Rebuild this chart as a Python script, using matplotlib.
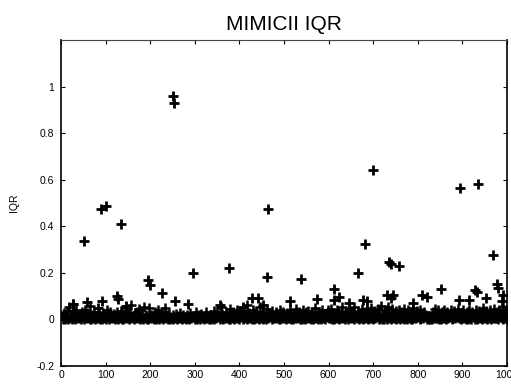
import numpy as np
import matplotlib
matplotlib.use("Agg")
import matplotlib.pyplot as plt

plt.rcParams['font.family'] = ['Liberation Sans', 'DejaVu Sans']

# Dense band of small IQR values (thousandths), one every 4 records
band_step = 4
band_main = [
    16, 28, 10, 35, 52, 20, 65, 30, 40, 14,
    24, 34, 16, 40, 26, 10, 58, 20, 30, 14,
    20, 30, 10, 26, 16, 40, 14, 34, 10, 24,
    16, 30, 20, 36, 14, 20, 50, 24, 26, 60,
    14, 26, 34, 45, 16, 24, 55, 20, 10, 48,
    20, 10, 30, 16, 40, 14, 34, 10, 50, 20,
    24, 12, 18, 10, 22, 14, 28, 12, 18, 10,
    18, 12, 26, 10, 16, 32, 12, 20, 24, 10,
    14, 30, 16, 20, 10, 36, 16, 34, 14, 55,
    24, 16, 34, 14, 45, 16, 30, 20, 40, 20,
    30, 16, 36, 20, 62, 26, 14, 42, 16, 34,
    20, 52, 20, 34, 16, 45, 26, 14, 36, 16,
    34, 16, 40, 20, 30, 14, 26, 20, 40, 16,
    24, 45, 14, 34, 20, 40, 16, 30, 36, 20,
    34, 16, 50, 20, 30, 16, 40, 24, 16, 40,
    20, 45, 26, 16, 40, 30, 20, 52, 20, 34,
    16, 45, 30, 20, 55, 16, 36, 24, 45, 20,
    34, 40, 20, 50, 16, 36, 20, 45, 26, 58,
    20, 40, 34, 52, 16, 45, 24, 36, 20, 42,
    30, 16, 45, 20, 40, 14, 34, 50, 20, 36,
    16, 42, 26, 34, 20, 12, 6, 10, 30, 45,
    20, 40, 16, 34, 42, 16, 30, 14, 40, 24,
    36, 16, 45, 26, 20, 40, 14, 34, 42, 16,
    34, 20, 42, 14, 36, 26, 50, 16, 36, 20,
    40, 24, 45, 16, 34, 42, 20, 52, 26, 40,
]
band_floor = [
    3, 0, 6, 2, 8, 1, 4, 0, 5, 7,
    2, 9, 0, 4, 6, 1, 3, 8, 0, 5,
    7, 2, 0, 5, 3, 9, 1, 6, 4, 0,
    8, 3, 5, 0, 2, 7, 4, 1, 6, 9,
    0, 4, 7, 2, 5, 0, 8, 3, 1, 6,
    5, 1, 3, 8, 0, 6, 2, 9, 4, 0,
    3, 7, 0, 4, 1, 5, 8, 2, 6, 0,
    6, 0, 4, 9, 2, 3, 7, 0, 5, 1,
    4, 8, 1, 0, 6, 2, 5, 9, 3, 7,
    0, 5, 8, 3, 1, 7, 0, 4, 6, 2,
    9, 2, 6, 0, 4, 8, 3, 1, 7, 5,
    1, 6, 3, 7, 0, 5, 9, 2, 4, 8,
    5, 0, 2, 6, 8, 1, 4, 7, 0, 3,
    7, 4, 9, 1, 3, 6, 0, 5, 8, 2,
    2, 8, 5, 3, 7, 0, 6, 1, 9, 4,
    6, 3, 0, 8, 5, 2, 7, 4, 1, 9,
    0, 7, 4, 2, 9, 6, 1, 8, 3, 5,
    8, 1, 7, 5, 2, 4, 9, 0, 6, 3,
    3, 9, 2, 6, 0, 8, 5, 3, 7, 1,
    5, 2, 8, 0, 6, 3, 1, 7, 4, 9,
    1, 6, 4, 9, 3, 0, 0, 2, 5, 7,
    7, 3, 0, 5, 8, 2, 6, 9, 1, 4,
    4, 9, 6, 1, 7, 5, 3, 0, 8, 2,
    9, 0, 3, 7, 4, 1, 8, 5, 2, 6,
    2, 5, 8, 4, 1, 9, 6, 3, 7, 0,
]

# Isolated larger values (record index, IQR)
outlier_x = [27, 52, 59, 82, 90, 91, 100, 126, 127, 134, 146, 196, 200, 227,
             250, 253, 256, 285, 296, 356, 377, 408, 429, 442, 454, 461, 465,
             513, 537, 573, 611, 612, 624, 646, 667, 678, 682, 687, 699, 730,
             736, 740, 741, 745, 758, 789, 809, 820, 851, 893, 895, 915, 929,
             932, 936, 954, 968, 977, 980, 988, 992]
outlier_y = [0.065, 0.335, 0.076, 0.05, 0.475, 0.08, 0.487, 0.1, 0.086, 0.41,
             0.058, 0.168, 0.15, 0.113, 0.958, 0.93, 0.08, 0.067, 0.2, 0.06,
             0.222, 0.055, 0.09, 0.09, 0.064, 0.183, 0.475, 0.079, 0.172,
             0.086, 0.082, 0.13, 0.096, 0.072, 0.2, 0.082, 0.322, 0.079, 0.64,
             0.103, 0.248, 0.09, 0.239, 0.107, 0.229, 0.072, 0.103, 0.096,
             0.132, 0.083, 0.566, 0.083, 0.125, 0.119, 0.58, 0.09, 0.275,
             0.153, 0.136, 0.08, 0.107]

xticks = [0, 100, 200, 300, 400, 500, 600, 700, 800, 900, 1000]
yticks = [-0.2, 0, 0.2, 0.4, 0.6, 0.8, 1.0]
ytick_labels = ['-0.2', '0', '0.2', '0.4', '0.6', '0.8', '1']

fig = plt.figure(figsize=(5.11, 3.88), dpi=100)
ax = fig.add_axes([0.1194, 0.0567, 0.8728, 0.8402])

main_x = np.arange(len(band_main)) * band_step + 2
floor_x = np.arange(len(band_floor)) * band_step + 4
ax.plot(floor_x, np.array(band_floor) / 1000.0, '+', color='black',
        markersize=6.5, markeredgewidth=1.8)
ax.plot(main_x, np.array(band_main) / 1000.0, '+', color='black',
        markersize=6.5, markeredgewidth=1.8)
ax.plot(outlier_x, outlier_y, '+', color='black',
        markersize=7, markeredgewidth=2.0)

ax.set_xlim(0, 1000)
ax.set_ylim(-0.2, 1.2)
ax.set_xticks(xticks)
ax.set_yticks(yticks)
ax.set_yticklabels(ytick_labels)
ax.tick_params(direction='in', length=3, width=0.8, top=True, right=True,
               labelsize=7.5, colors='black')
ax.tick_params(axis='x', pad=3)
ax.tick_params(axis='y', pad=5)

for side in ['left', 'bottom', 'right']:
    ax.spines[side].set_linewidth(1.2)
ax.spines['top'].set_linewidth(0.8)
ax.spines['top'].set_color('#444444')

ax.set_title('MIMICII IQR', fontsize=15, pad=7)
ax.set_ylabel('IQR', fontsize=7.5)
ax.yaxis.set_label_coords(-0.095, 0.5)

fig.savefig('out.png', dpi=100)
